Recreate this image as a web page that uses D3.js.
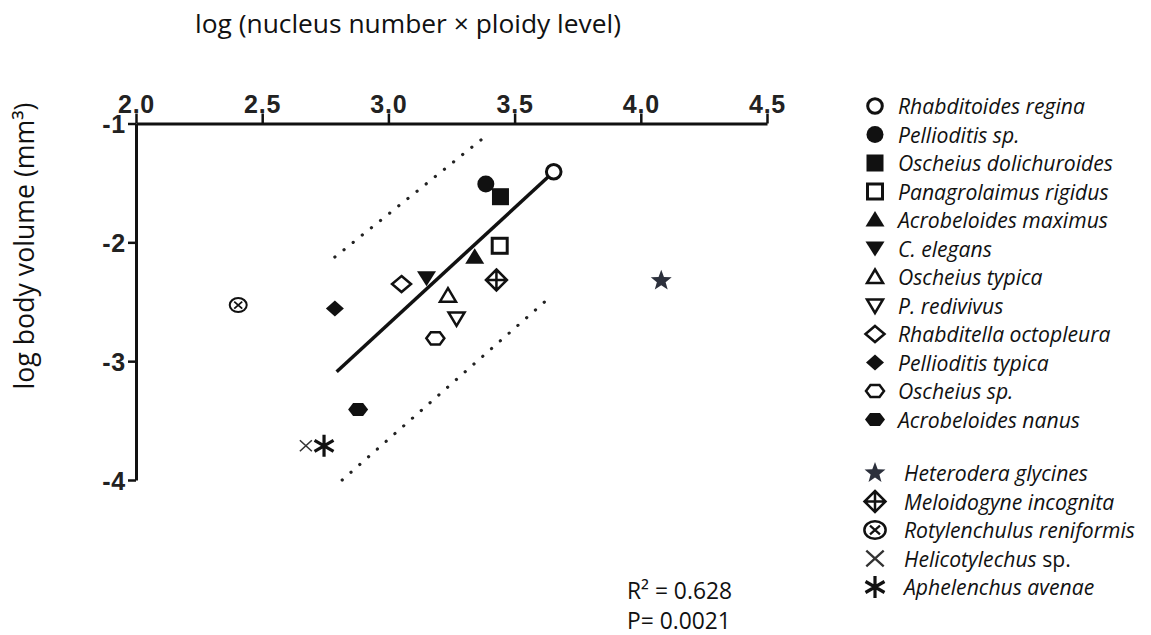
<!DOCTYPE html>
<html>
<head>
<meta charset="utf-8">
<script src="https://cdn.jsdelivr.net/npm/d3@7"></script>
<style>
  body { margin: 0; background: #fff; }
  svg { display: block; }
</style>
</head>
<body>
<svg id="chart" width="1151" height="635"></svg>
<script>
// species, values
var species = ["Rhabditoides regina", "Pellioditis sp.", "Oscheius dolichuroides", "Panagrolaimus rigidus",
  "Acrobeloides maximus", "C. elegans", "Oscheius typica", "P. redivivus", "Rhabditella octopleura",
  "Pellioditis typica", "Oscheius sp.", "Acrobeloides nanus",
  "Heterodera glycines", "Meloidogyne incognita", "Rotylenchulus reniformis", "Helicotylechus", "Aphelenchus avenae"];
var xvals = [3.655, 3.386, 3.444, 3.441, 3.342, 3.151, 3.236, 3.270, 3.052, 2.788, 3.186, 2.880,
  4.081, 3.428, 2.405, 2.673, 2.745];
var yvals = [-1.406, -1.509, -1.616, -2.029, -2.126, -2.303, -2.449, -2.640, -2.351, -2.556, -2.808, -3.406,
  -2.323, -2.317, -2.528, -3.712, -3.712];
var shapes = ["circleOpen", "circleFill", "squareFill", "squareOpen", "triUpFill", "triDownFill", "triUpOpen",
  "triDownOpen", "diamondOpen", "diamondFill", "hexOpen", "hexFill",
  "star", "diamondPlus", "circleX", "times", "asterisk"];
var groups = [0,0,0,0,0,0,0,0,0,0,0,0,1,1,1,1,1];

var xTicks = [2.0, 2.5, 3.0, 3.5, 4.0, 4.5];
var yTicks = [-1, -2, -3, -4];

// regression line and the two dotted bands
var fitX = [2.795, 3.655], fitY = [-3.089, -1.406];
var upX = [2.788, 3.401], upY = [-2.124, -1.08];
var loX = [2.817, 3.642], loY = [-4.0, -2.458];

var svg = d3.select('#chart');
var x = d3.scaleLinear().domain([2, 4.5]).range([136, 767]);
var y = d3.scaleLinear().domain([-1, -4]).range([123.5, 480]);

// scale a text's font so it spans the given width
function fitWidth(t, w) {
  var fs = parseFloat(t.style('font-size'));
  var len = t.node().getComputedTextLength();
  t.style('font-size', (fs * w / len).toFixed(2) + 'px');
}

// axes
var gx = svg.append('g').attr('transform', 'translate(0,' + y(-1) + ')')
  .call(d3.axisTop(x).tickValues(xTicks).tickFormat(d3.format('.1f')).tickSize(10).tickSizeOuter(0).tickPadding(1));
var gy = svg.append('g').attr('transform', 'translate(' + x(2) + ',0)')
  .call(d3.axisLeft(y).tickValues(yTicks).tickFormat(function(d){ return String(d); }).tickSize(8).tickSizeOuter(0).tickPadding(2));
[gx, gy].forEach(function(g){
  g.select('.domain').attr('stroke', '#111').attr('stroke-width', 3);
  g.selectAll('.tick line').attr('stroke', '#111').attr('stroke-width', 2.5);
  g.selectAll('.tick text').attr('fill', '#222')
    .style('font-family', '"Liberation Sans", Arial, sans-serif').style('font-weight', 'bold')
    .style('font-size', '25px').style('letter-spacing', '0.8px');
});
gy.selectAll('.tick text').attr('dy', '0.36em');

// titles
var title = svg.append('text').attr('x', 408).attr('y', 33).attr('text-anchor', 'middle')
  .style('font-family', '"Open Sans", sans-serif').style('font-size', '22px').attr('fill', '#111')
  .text('log (nucleus number \u00d7 ploidy level)');
fitWidth(title, 426);
var ylab = svg.append('text').attr('transform', 'translate(34,246) rotate(-90)').attr('text-anchor', 'middle')
  .style('font-family', '"Open Sans", sans-serif').style('font-size', '22px').attr('fill', '#111')
  .text('log body volume (mm\u00b3)');
fitWidth(ylab, 287);

// lines
var line = d3.line().x(function(d){ return x(d[0]); }).y(function(d){ return y(d[1]); });
svg.append('path').datum(d3.zip(fitX, fitY)).attr('d', line)
  .attr('stroke', '#111').attr('stroke-width', 3.5).attr('fill', 'none');
[[upX, upY], [loX, loY]].forEach(function(b){
  svg.append('path').datum(d3.zip(b[0], b[1])).attr('d', line)
    .attr('stroke', '#222').attr('stroke-width', 3.2).attr('fill', 'none')
    .attr('stroke-linecap', 'round').attr('stroke-dasharray', '0.1 11.6');
});

function hexPath(rx, ry) {
  var p = [];
  for (var i = 0; i < 6; i++) {
    var a = i * Math.PI / 3;
    p.push([rx * Math.cos(a), ry * Math.sin(a)]);
  }
  return 'M' + p.join('L') + 'Z';
}
function starPath(ro, ri) {
  var p = [];
  for (var i = 0; i < 10; i++) {
    var a = -Math.PI / 2 + i * Math.PI / 5, r = i % 2 ? ri : ro;
    p.push([r * Math.cos(a), r * Math.sin(a)]);
  }
  return 'M' + p.join('L') + 'Z';
}

// draw one marker centred at cx,cy
function marker(parent, shape, cx, cy, k) {
  var g = parent.append('g').attr('transform', 'translate(' + cx + ',' + cy + ') scale(' + k + ')');
  var black = '#111';
  switch (shape) {
    case 'circleOpen':
      g.append('circle').attr('r', 7.3).attr('fill', '#fff').attr('stroke', black).attr('stroke-width', 3); break;
    case 'circleFill':
      g.append('circle').attr('r', 8.5).attr('fill', black); break;
    case 'squareFill':
      g.append('rect').attr('x', -8.5).attr('y', -8.5).attr('width', 17).attr('height', 17).attr('fill', black); break;
    case 'squareOpen':
      g.append('rect').attr('x', -7.5).attr('y', -7.5).attr('width', 15).attr('height', 15)
        .attr('fill', '#fff').attr('stroke', black).attr('stroke-width', 3); break;
    case 'triUpFill':
      g.append('path').attr('d', 'M0,-9L9.5,6.5L-9.5,6.5Z').attr('fill', black); break;
    case 'triDownFill':
      g.append('path').attr('d', 'M-9.5,-7L9.5,-7L0,8Z').attr('fill', black); break;
    case 'triUpOpen':
      g.append('path').attr('d', 'M0,-7.5L8,6L-8,6Z').attr('fill', '#fff').attr('stroke', black).attr('stroke-width', 2.5); break;
    case 'triDownOpen':
      g.append('path').attr('d', 'M-8,-6L8,-6L0,7.5Z').attr('fill', '#fff').attr('stroke', black).attr('stroke-width', 2.5); break;
    case 'diamondOpen':
      g.append('path').attr('d', 'M0,-8L9.5,0L0,8L-9.5,0Z').attr('fill', '#fff').attr('stroke', black).attr('stroke-width', 2.5); break;
    case 'diamondFill':
      g.append('path').attr('d', 'M0,-8L9,0L0,8L-9,0Z').attr('fill', black); break;
    case 'hexOpen':
      g.append('path').attr('d', hexPath(9, 7)).attr('fill', '#fff').attr('stroke', black).attr('stroke-width', 2.5); break;
    case 'hexFill':
      g.append('path').attr('d', hexPath(10, 7.5)).attr('fill', black); break;
    case 'star':
      g.append('path').attr('d', starPath(11, 4.6)).attr('fill', '#2c303c'); break;
    case 'diamondPlus':
      g.append('path').attr('d', 'M0,-10.5L10.5,0L0,10.5L-10.5,0Z M0,-10.5V10.5 M-10.5,0H10.5')
        .attr('fill', 'none').attr('stroke', black).attr('stroke-width', 2.5); break;
    case 'circleX':
      g.append('ellipse').attr('rx', 8.5).attr('ry', 7).attr('fill', '#fff').attr('stroke', black).attr('stroke-width', 2);
      g.append('path').attr('d', 'M-4,-3.5L4,3.5M-4,3.5L4,-3.5').attr('stroke', black).attr('stroke-width', 1.8); break;
    case 'times':
      g.append('path').attr('d', 'M-6,-5.5L6,5.5M-6,5.5L6,-5.5').attr('stroke', '#333').attr('stroke-width', 1.6); break;
    case 'asterisk':
      g.append('path').attr('d', 'M0,-11V11M-9.5,-5.5L9.5,5.5M-9.5,5.5L9.5,-5.5').attr('stroke', black).attr('stroke-width', 3.2); break;
  }
}

// points
var pts = svg.append('g');
species.forEach(function(s, i){ marker(pts, shapes[i], x(xvals[i]), y(yvals[i]), 1); });

// legend
var leg = svg.append('g');
var legTexts = [];
species.forEach(function(s, i){
  var rowY = groups[i] === 0 ? 106 + i * 28.5 : 473 + (i - 12) * 28.5;
  var k = shapes[i] === 'times' ? 1.45 : (shapes[i] === 'circleX' ? 1.25 : 1.0);
  marker(leg, shapes[i], 875, rowY, k);
  var t = leg.append('text').attr('x', groups[i] === 0 ? 898 : 904).attr('y', rowY + 8)
    .style('font-family', '"Open Sans", sans-serif').style('font-style', 'italic').style('font-size', '19px').attr('fill', '#111')
    .text(s);
  if (s === 'Helicotylechus') {
    t.append('tspan').style('font-style', 'normal').text(' sp.');
  }
  legTexts.push(t);
});
// size the legend font from the first label's width
var lf = parseFloat(legTexts[0].style('font-size')) * 187 / legTexts[0].node().getComputedTextLength();
legTexts.forEach(function(t){ t.style('font-size', lf.toFixed(2) + 'px'); });

// statistics
var stats = ['R\u00b2 = 0.628', 'P= 0.0021'];
var st = svg.selectAll('.stat').data(stats).enter().append('text').attr('class', 'stat')
  .attr('x', 627).attr('y', function(d, i){ return 599 + i * 30; })
  .style('font-family', '"Open Sans", sans-serif').style('font-size', '20px').attr('fill', '#111')
  .text(function(d){ return d; });
fitWidth(d3.select(st.nodes()[0]), 105);
d3.select(st.nodes()[1]).style('font-size', d3.select(st.nodes()[0]).style('font-size'));
</script>
</body>
</html>
